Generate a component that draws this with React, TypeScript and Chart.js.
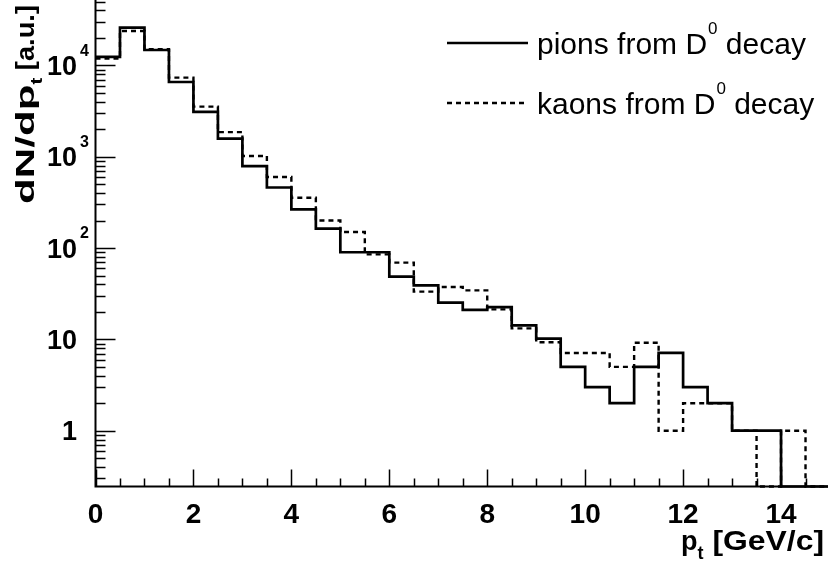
import React, { useEffect, useRef } from "react";
import { Chart, registerables } from "chart.js";

Chart.register(...registerables);

// ---- data ----
const binEdges = [0, 0.5, 1, 1.5, 2, 2.5, 3, 3.5, 4, 4.5, 5, 5.5, 6, 6.5, 7, 7.5, 8, 8.5, 9, 9.5, 10, 10.5, 11, 11.5, 12, 12.5, 13, 13.5, 14, 14.5, 15];
const pions = [12400, 25900, 14750, 6580, 3090, 1580, 790, 460, 265, 163, 90, 90, 48.6, 39, 25.2, 21, 22.6, 14.2, 10.2, 5, 3, 2, 5, 7.1, 3, 2, 1, 1, 0, 0];
const kaons = [11900, 23800, 15000, 7350, 3540, 1860, 1018, 600, 356, 200, 150, 85.3, 69.2, 33.3, 37.4, 34.4, 21.3, 13.2, 9.3, 7.1, 7.1, 5, 9.2, 1, 2, 2, 1, 0, 1, 0];
const seriesNames = ["pions from D", "kaons from D"];
const seriesSup = "0";
const seriesTail = " decay";

const xMin = 0;
const xMax = 15;
const yMin = 0.245;
const yMax = 52000;

const xMajorTicks = [0, 2, 4, 6, 8, 10, 12, 14];
const xTickLabels = ["0", "2", "4", "6", "8", "10", "12", "14"];
const xMinorStep = 0.5;
const yMajorTicks = [1, 10, 100, 1000, 10000];
const yTickBase = ["1", "10", "10", "10", "10"];
const yTickExp = ["", "", "2", "3", "4"];

const xTitleMain = "p";
const xTitleSub = "t";
const xTitleTail = " [GeV/c]";
const yTitleMain = "dN/dp";
const yTitleSub = "t";
const yTitleTail = " [a.u.]";

const FONT = '"Liberation Sans", Arial, Helvetica, sans-serif';

function stepPoints(values: number[]) {
  return binEdges.map((e, i) => {
    const v = i < values.length ? values[i] : values[values.length - 1];
    return { x: e, y: v > 0 ? v : yMin };
  });
}

// draws text starting at (x, y) stretched horizontally by sx; returns advance
function drawText(ctx: CanvasRenderingContext2D, text: string, x: number, y: number, font: string, sx: number) {
  ctx.font = font;
  const w = ctx.measureText(text).width * sx;
  ctx.save();
  ctx.translate(x, y);
  ctx.scale(sx, 1);
  ctx.textAlign = "left";
  ctx.fillText(text, 0, 0);
  ctx.restore();
  return w;
}
function measure(ctx: CanvasRenderingContext2D, text: string, font: string, sx: number) {
  ctx.font = font;
  return ctx.measureText(text).width * sx;
}

const axesPlugin = {
  id: "rootAxes",
  afterDatasetsDraw(chart: any) {
    const ctx: CanvasRenderingContext2D = chart.ctx;
    const xs = chart.scales.x;
    const ys = chart.scales.y;
    const area = chart.chartArea;
    const left = area.left;
    const bottom = area.bottom;
    ctx.save();
    ctx.strokeStyle = "#000";
    ctx.fillStyle = "#000";
    ctx.textBaseline = "alphabetic";

    // axis lines
    ctx.lineWidth = 2;
    ctx.beginPath();
    ctx.moveTo(left, area.top - 2);
    ctx.lineTo(left, bottom);
    ctx.lineTo(area.right + 4, bottom);
    ctx.stroke();

    // y ticks
    ctx.lineWidth = 1.5;
    ctx.beginPath();
    for (let d = -1; d <= 4; d++) {
      for (let k = 1; k <= 9; k++) {
        const v = k * Math.pow(10, d);
        if (v < yMin || v > yMax) continue;
        const py = Math.round(ys.getPixelForValue(v)) + 0.5;
        const len = k === 1 ? 20 : 10;
        ctx.moveTo(left, py);
        ctx.lineTo(left + len, py);
      }
    }
    // x ticks
    for (let x = xMin; x <= xMax + 1e-9; x += xMinorStep) {
      const px = Math.round(xs.getPixelForValue(x)) + 0.5;
      const major = xMajorTicks.indexOf(x) >= 0;
      const len = major ? 17 : 8;
      ctx.moveTo(px, bottom);
      ctx.lineTo(px, bottom - len);
    }
    ctx.stroke();

    // y tick labels
    const baseF = 27;
    const expF = 16;
    yMajorTicks.forEach((v, i) => {
      const py = ys.getPixelForValue(v);
      ctx.font = `bold ${baseF}px ${FONT}`;
      ctx.textAlign = "right";
      const baseline = py + baseF * 0.36;
      ctx.fillText(yTickBase[i], 77, baseline);
      if (yTickExp[i]) {
        ctx.font = `bold ${expF}px ${FONT}`;
        ctx.textAlign = "left";
        ctx.fillText(yTickExp[i], 80, baseline - baseF * 0.72);
      }
    });

    // x tick labels
    ctx.font = `bold 28px ${FONT}`;
    ctx.textAlign = "center";
    xMajorTicks.forEach((v, i) => {
      ctx.fillText(xTickLabels[i], xs.getPixelForValue(v), 523);
    });

    // x title (right-aligned)
    {
      const fMain = `bold 27px ${FONT}`;
      const fSub = `bold 18px ${FONT}`;
      const sxTail = 1.18;
      const wMain = measure(ctx, xTitleMain, fMain, 1);
      const wSub = measure(ctx, xTitleSub, fSub, 1);
      const wTail = measure(ctx, xTitleTail, fMain, sxTail);
      const right = 824;
      const base = 550;
      let x = right - (wMain + wSub + wTail);
      x += drawText(ctx, xTitleMain, x, base, fMain, 1);
      x += drawText(ctx, xTitleSub, x, base + 9, fSub, 1);
      drawText(ctx, xTitleTail, x, base, fMain, sxTail);
    }

    // y title (rotated, right aligned at top)
    {
      const fMain = `bold 26px ${FONT}`;
      const fSub = `bold 17px ${FONT}`;
      const sxMain = 1.62;
      ctx.save();
      ctx.translate(34, 5);
      ctx.rotate(-Math.PI / 2);
      const wMain = measure(ctx, yTitleMain, fMain, sxMain);
      const wSub = measure(ctx, yTitleSub, fSub, 1.2);
      const wTail = measure(ctx, yTitleTail, fMain, 1.05);
      let x = -(wMain + wSub + wTail);
      x += drawText(ctx, yTitleMain, x, 0, fMain, sxMain);
      x += drawText(ctx, yTitleSub, x, 8, fSub, 1.2);
      drawText(ctx, yTitleTail, x, 0, fMain, 1.05);
      ctx.restore();
    }

    // legend
    const legY = [43, 103];
    const dashes = [[], [5, 4]];
    seriesNames.forEach((name, i) => {
      ctx.lineWidth = 2.6;
      ctx.setLineDash(dashes[i]);
      ctx.beginPath();
      ctx.moveTo(447, legY[i]);
      ctx.lineTo(528, legY[i]);
      ctx.stroke();
      ctx.setLineDash([]);
      const base = legY[i] + 11;
      const fMain = `30px ${FONT}`;
      const fSup = `17px ${FONT}`;
      let x = 537;
      x += drawText(ctx, name, x, base, fMain, 1) + 1;
      x += drawText(ctx, seriesSup, x, base - 20, fSup, 1);
      drawText(ctx, seriesTail, x, base, fMain, 1);
    });

    ctx.restore();
  },
};

export default function App() {
  const ref = useRef<HTMLCanvasElement | null>(null);
  useEffect(() => {
    if (!ref.current) return;
    const chart = new Chart(ref.current, {
      type: "line",
      data: {
        datasets: [
          {
            label: seriesNames[0],
            data: stepPoints(pions),
            borderColor: "#000",
            borderWidth: 2.7,
            stepped: "before",
            pointRadius: 0,
            fill: false,
            clip: false as any,
          },
          {
            label: seriesNames[1],
            data: stepPoints(kaons),
            borderColor: "#000",
            borderWidth: 2.4,
            borderDash: [5, 4],
            stepped: "before",
            pointRadius: 0,
            fill: false,
            clip: false as any,
          },
        ],
      },
      options: {
        responsive: false,
        animation: false,
        devicePixelRatio: 1,
        layout: { padding: { left: 95.5, top: 0, right: 2, bottom: 81.5 } },
        plugins: { legend: { display: false }, tooltip: { enabled: false } },
        scales: {
          x: { type: "linear", min: xMin, max: xMax, display: false },
          y: { type: "logarithmic", min: yMin, max: yMax, display: false },
        },
      },
      plugins: [axesPlugin],
    });
    return () => chart.destroy();
  }, []);
  return (
    <div style={{ position: "fixed", left: 0, top: 0, width: 828, height: 568, overflow: "hidden", background: "#fff" }}>
      <canvas ref={ref} width={832} height={568} style={{ display: "block" }} />
    </div>
  );
}
